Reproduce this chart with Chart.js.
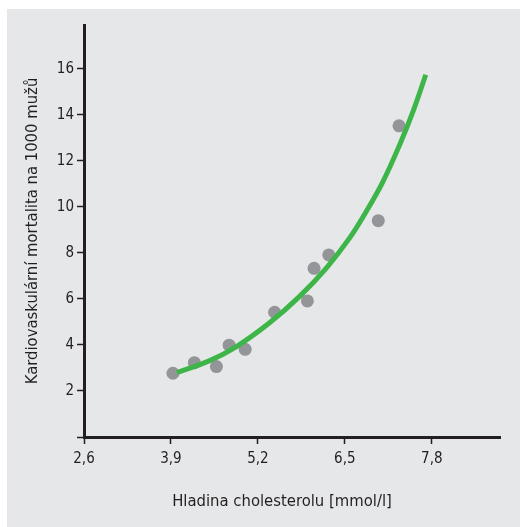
<!DOCTYPE html>
<html>
<head>
<meta charset="utf-8">
<script src="https://cdn.jsdelivr.net/npm/chart.js@4"></script>
<style>
  html, body { margin: 0; padding: 0; background: #ffffff; }
  #panel { position: absolute; left: 7px; top: 9px; width: 513px; height: 518px; background: #e6e7e9; }
  #chart { display: block; }
</style>
</head>
<body>
<div id="panel"><canvas id="chart" width="513" height="518"></canvas></div>
<script>
// measured points
const cholesterol = [3.93, 4.25, 4.58, 4.77, 5.01, 5.45, 5.94, 6.04, 6.26, 7.0, 7.31];
const mortality = [2.77, 3.23, 3.06, 3.99, 3.81, 5.42, 5.91, 7.33, 7.91, 9.40, 13.52];

// fitted curve
const curveX = [3.99, 4.48, 4.88, 5.37, 5.82, 6.22, 6.57, 6.82, 7.07, 7.32, 7.52, 7.71];
const curveY = [2.80, 3.32, 3.93, 4.95, 6.10, 7.33, 8.64, 9.8, 11.1, 12.7, 14.15, 15.74];

const xTitle = "Hladina cholesterolu [mmol/l]";
const yTitle = "Kardiovaskulární mortalita na 1000 mužů";

const FONT = "'Liberation Sans Narrow', 'DejaVu Sans Condensed', sans-serif";
const INK = "#231f20";

const points = cholesterol.map((x, i) => ({ x, y: mortality[i] }));
const curve = curveX.map((x, i) => ({ x, y: curveY[i] }));

const axisGrid = {
  drawOnChartArea: false,
  drawTicks: true,
  tickLength: 7,
  tickColor: INK,
  tickWidth: 1.5,
};

// x title sits a bit left of the plot centre in the original
const xTitlePlugin = {
  id: "xTitle",
  afterDraw(chart) {
    const { ctx, chartArea } = chart;
    ctx.save();
    ctx.font = "16.5px " + FONT;
    ctx.fillStyle = INK;
    ctx.textAlign = "center";
    ctx.textBaseline = "middle";
    ctx.fillText(xTitle, (chartArea.left + chartArea.right) / 2 - 10, chart.height - 25);
    ctx.restore();
  },
};

new Chart(document.getElementById("chart").getContext("2d"), {
  type: "scatter",
  data: {
    datasets: [
      {
        label: "fit",
        data: curve,
        showLine: true,
        borderColor: "#3db549",
        borderWidth: 5,
        pointRadius: 0,
        tension: 0.4,
        fill: false,
      },
      {
        label: "data",
        data: points,
        backgroundColor: "#939598",
        borderWidth: 0,
        pointRadius: 6.5,
      },
    ],
  },
  options: {
    responsive: false,
    animation: false,
    layout: { padding: { top: 16, right: 20, left: 0, bottom: 0 } },
    plugins: { legend: { display: false }, tooltip: { enabled: false } },
    scales: {
      x: {
        type: "linear",
        min: 2.6,
        max: 8.82,
        afterFit: (s) => { s.height = 90; },
        ticks: {
          stepSize: 1.3,
          includeBounds: false,
          color: INK,
          padding: 6,
          font: { family: FONT, size: 15 },
          callback: (v) => v.toFixed(1).replace(".", ","),
        },
        grid: axisGrid,
        border: { color: INK, width: 3 },
      },
      y: {
        type: "linear",
        min: 0,
        max: 17.9,
        afterFit: (s) => { s.width = 77; },
        ticks: {
          stepSize: 2,
          includeBounds: false,
          color: INK,
          padding: 3,
          font: { family: FONT, size: 15 },
          callback: (v) => (v === 0 ? "" : v),
        },
        grid: axisGrid,
        border: { color: INK, width: 3 },
        title: {
          display: true,
          text: yTitle,
          color: INK,
          font: { family: FONT, size: 16.5 },
          padding: { top: 16 },
        },
      },
    },
  },
  plugins: [xTitlePlugin],
});
</script>
</body>
</html>
